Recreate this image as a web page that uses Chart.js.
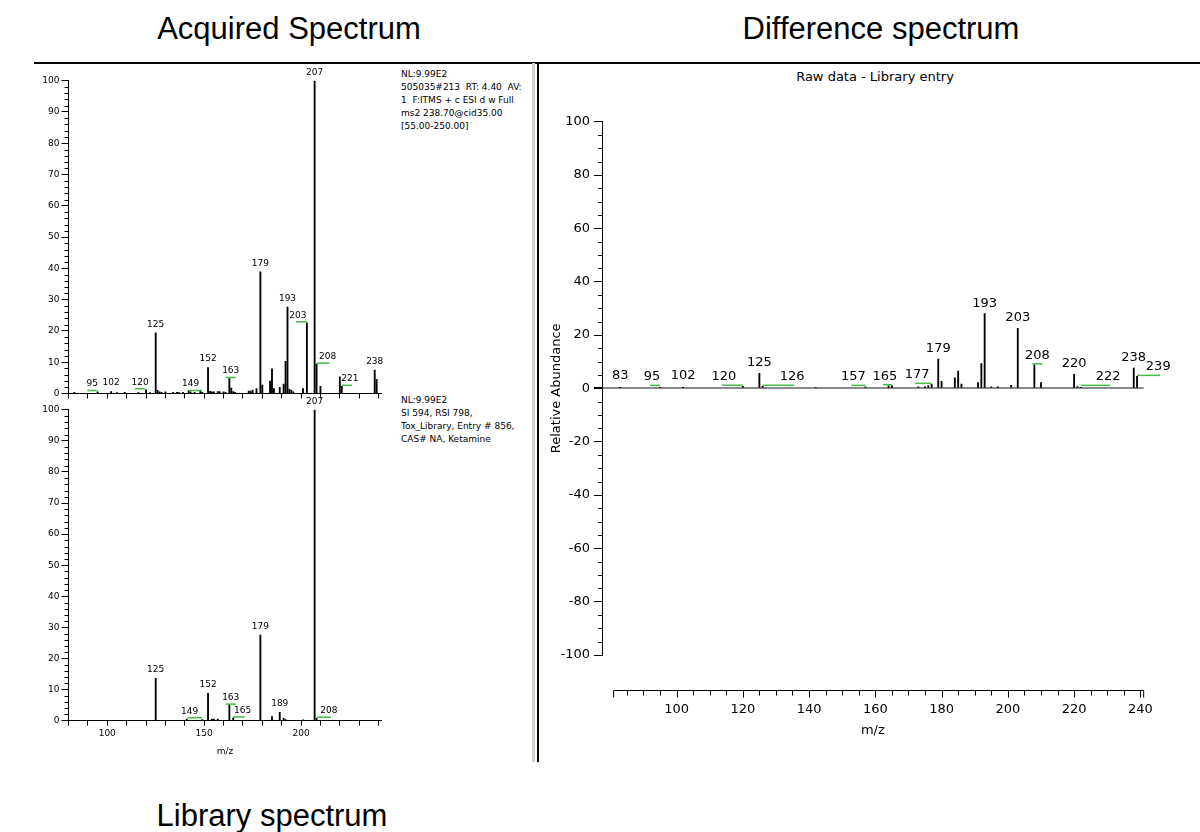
<!DOCTYPE html>
<html>
<head>
<meta charset="utf-8">
<title>Acquired / Library / Difference spectrum</title>
<script src="https://cdn.jsdelivr.net/npm/chart.js@4.4.1/dist/chart.umd.min.js"></script>
<style>
  html, body { margin: 0; padding: 0; background: #fff; }
  body { position: relative; width: 1200px; height: 832px; overflow: hidden; }
  .ttl { position: absolute; transform: translateX(-50%); font: 31px/31px 'Liberation Sans', Arial, sans-serif; color: #000; white-space: nowrap; }
  .sub { position: absolute; transform: translate(-50%, -50%); font: 13px 'DejaVu Sans', sans-serif; color: #000; white-space: nowrap; }
  .info { position: absolute; left: 401px; font: 9px 'DejaVu Sans', sans-serif; line-height: 13px; color: #000; white-space: pre; }
  .box { position: absolute; }
  .rule { position: absolute; background: #000; }
</style>
</head>
<body>

<div class="ttl" style="left:289px;top:13px">Acquired Spectrum</div>
<div class="ttl" style="left:881px;top:13px">Difference spectrum</div>
<div class="ttl" style="left:272px;top:800px">Library spectrum</div>

<div class="rule" style="left:34px;top:62px;width:1166px;height:2px"></div>
<div class="rule" style="left:532px;top:63px;width:3px;height:699px;background:#d4d0c8"></div>
<div class="rule" style="left:537px;top:63px;width:1.5px;height:699px"></div>

<div class="info" style="top:68px">NL:9.99E2
505035#213  RT: 4.40  AV:
1  F:ITMS + c ESI d w Full
ms2 238.70@cid35.00
[55.00-250.00]</div>
<div class="info" style="top:394px">NL:9.99E2
SI 594, RSI 798,
Tox_Library, Entry # 856,
CAS# NA, Ketamine</div>

<div class="sub" style="left:875px;top:76px">Raw data - Library entry</div>

<div class="box" style="left:0;top:60px;width:400px;height:345px"><canvas id="acq"></canvas></div>
<div class="box" style="left:0;top:390px;width:400px;height:375px"><canvas id="lib"></canvas></div>
<div class="box" style="left:540px;top:62px;width:660px;height:700px"><canvas id="diff"></canvas></div>

<script>
// ── DATA ──────────────────────────────────────────────────────
// acquired (raw) MS2 spectrum, relative abundance
const acqMz = [83, 95, 102, 105, 109, 116, 120, 122, 125, 126, 127, 128, 130, 134, 136,
  137, 139, 142, 143, 145, 148, 149, 152, 153, 154, 155, 157, 158, 160, 161,
  163, 164, 165, 166, 173, 174, 175, 177, 179, 180, 184, 185, 186, 189, 191,
  192, 193, 194, 195, 196, 201, 203, 207, 208, 210, 220, 221, 238, 239];
const acqAb = [0.4, 0.5, 0.6, 0.3, 0.4, 0.3, 1.2, 0.3, 19.4, 1.0, 0.5, 0.4, 0.5, 0.4, 0.4,
  0.3, 0.4, 0.9, 0.5, 0.4, 0.7, 0.4, 8.3, 0.7, 0.5, 0.5, 0.6, 0.6, 0.5, 0.4,
  4.8, 1.7, 0.6, 0.4, 0.8, 0.8, 1.1, 1.6, 38.9, 2.7, 4.0, 7.9, 1.6, 2.0, 3.0,
  10.3, 27.6, 1.4, 1.0, 0.5, 1.6, 22.6, 100, 9.4, 2.3, 5.3, 2.3, 7.5, 4.5];
// library entry (Ketamine)
const libMz = [125, 141, 149, 152, 154, 155, 157, 163, 165, 179, 185, 189, 191, 192, 201, 207, 208];
const libAb = [13.6, 0.5, 0.4, 8.8, 0.5, 0.5, 0.5, 5.0, 0.9, 27.5, 1.3, 2.7, 0.8, 0.4, 0.3, 100, 0.8];
// raw data - library entry
const diffMz = [83, 95, 102, 120, 125, 126, 142, 157, 164, 165, 173, 175, 176, 177, 179,
  180, 184, 185, 186, 191, 192, 193, 195, 197, 201, 203, 208, 210, 220, 221, 222, 238, 239];
const diffAb = [0.3, 0.3, 0.3, 0.8, 5.6, 0.8, 0.4, 0.6, 0.9, 1.0, 0.6, 0.6, 1.0, 1.5, 11.0,
  2.6, 3.9, 6.5, 1.6, 2.2, 9.3, 28.0, 0.6, 0.6, 1.1, 22.5, 8.8, 2.2, 5.3, 0.7, 0.3, 7.6, 4.5];

// peak labels: [peak m/z, m/z where the label is moved to (green flag) or null]
const acqLabels = [[95, 92.3], [102, null], [120, 117], [125, null], [149, 143], [152, null],
  [163, 163.7], [179, null], [193, null], [203, 198.3], [207, null], [208, 213.7], [221, 225.2], [238, null]];
const libLabels = [[125, null], [149, 142.5], [152, null], [163, 163.7], [165, 169.8], [179, null],
  [189, null], [207, null], [208, 214.3]];
const diffLabels = [[83, null], [95, 92.6], [102, null], [120, 114.3], [125, null], [126, 134.9],
  [157, 153.4], [165, 162.9], [177, 172.6], [179, null], [193, null], [203, null], [208, 208.9],
  [220, null], [222, 230.3], [238, null], [239, 245.4]];

Chart.defaults.font.family = "'DejaVu Sans', sans-serif";
Chart.defaults.color = '#000';
Chart.defaults.animation = false;
Chart.defaults.plugins.legend.display = false;
Chart.defaults.plugins.tooltip.enabled = false;

const FLAG_GREEN = '#45b845';

// ── PLUGINS ───────────────────────────────────────────────────
// peak m/z labels, with the green flag when the label is shifted aside
const peakLabels = {
  id: 'peakLabels',
  afterDatasetsDraw(chart, args, o) {
    const { ctx } = chart;
    const xs = chart.scales.x, ys = chart.scales.y;
    const pts = chart.data.datasets[0].data;
    const base = ys.getPixelForValue(0);
    ctx.save();
    ctx.font = `${o.size}px 'DejaVu Sans', sans-serif`;
    ctx.fillStyle = '#000';
    ctx.textAlign = 'center';
    ctx.textBaseline = 'bottom';
    o.items.forEach(([mz, lx]) => {
      const p = pts.find(d => d.x === mz);
      const px = xs.getPixelForValue(mz);
      const py = Math.min(ys.getPixelForValue(p ? p.y : 0), base - 2);
      let tx = px;
      if (lx != null) {
        tx = xs.getPixelForValue(lx);
        let a = px, b = tx + (tx > px ? 2 : -2);
        if (Math.abs(a - b) < 8) { a = tx - 5; b = tx + 5; }
        ctx.strokeStyle = FLAG_GREEN;
        ctx.lineWidth = 1.5;
        ctx.beginPath();
        ctx.moveTo(a, py - 1);
        ctx.lineTo(b, py - 1);
        ctx.stroke();
      }
      ctx.fillText(String(mz), tx, py - (lx != null ? 3 : 4));
    });
    ctx.restore();
  }
};

// short minor ticks on the abundance axis + detached m/z axis of the difference view
const axisExtras = {
  id: 'axisExtras',
  afterDraw(chart, args, o) {
    const { ctx, chartArea } = chart;
    const xs = chart.scales.x, ys = chart.scales.y;
    ctx.save();
    ctx.strokeStyle = '#000';
    ctx.lineWidth = 1;
    ctx.beginPath();
    for (let v = ys.min; v <= ys.max; v += o.yStep) {
      if (v % o.yMajor === 0) continue;
      const py = Math.round(ys.getPixelForValue(v)) + 0.5;
      ctx.moveTo(chartArea.left - o.yLen, py);
      ctx.lineTo(chartArea.left, py);
    }
    if (o.xAxis) {
      const a = o.xAxis;
      const py = Math.round(chartArea.bottom + a.gap) + 0.5;
      const x0 = xs.getPixelForValue(a.from), x1 = xs.getPixelForValue(a.to);
      ctx.moveTo(x0, py);
      ctx.lineTo(x1, py);
      ctx.moveTo(x0, py);
      ctx.lineTo(x0, py + a.majorLen);
      ctx.moveTo(x1, py);
      ctx.lineTo(x1, py + a.majorLen);
      for (let v = Math.ceil(a.from / a.step) * a.step; v < a.to; v += a.step) {
        const px = Math.round(xs.getPixelForValue(v)) + 0.5;
        ctx.moveTo(px, py);
        ctx.lineTo(px, py + (v % a.major === 0 ? a.majorLen : a.len));
      }
    }
    ctx.stroke();
    ctx.restore();
  }
};

function sticks(mz, ab) {
  return {
    data: mz.map((m, i) => ({ x: m, y: ab[i] })),
    backgroundColor: '#000', borderWidth: 0, barThickness: 1.2,
  };
}

// ── LEFT STACK (acquired / library) ──────────────────────────
function leftChart(id, mz, ab, labels, o) {
  return new Chart(document.getElementById(id), {
    type: 'bar',
    data: { datasets: [sticks(mz, ab)] },
    options: {
      responsive: true, maintainAspectRatio: false,
      layout: { padding: o.padding },
      plugins: {
        peakLabels: { items: labels, size: 9 },
        axisExtras: { yStep: 2, yMajor: 10, yLen: 4 },
      },
      scales: {
        x: {
          type: 'linear', min: 80, max: 241.5, offset: false,
          afterFit: s => { s.height = o.xHeight; },
          ticks: {
            stepSize: 10, autoSkip: false, includeBounds: false, maxRotation: 0, padding: 3,
            font: { size: 9 }, callback: v => (o.xLabels && v % 50 === 0 ? v : ''),
          },
          grid: { drawOnChartArea: false, offset: false, tickLength: 5, color: '#000' },
          border: { color: '#000' },
          title: { display: o.xLabels, text: 'm/z', font: { size: 9 }, padding: { top: 0, bottom: 3.6 } },
        },
        y: {
          min: 0, max: 100,
          afterFit: s => { s.width = 40; },
          ticks: { stepSize: 10, font: { size: 9 }, padding: 2 },
          grid: { drawOnChartArea: false, tickLength: 7, color: '#000' },
          border: { color: '#000' },
        },
      },
    },
    plugins: [peakLabels, axisExtras],
  });
}

leftChart('acq', acqMz, acqAb, acqLabels,
  { padding: { left: 28.5, top: 20.7, right: 18.5, bottom: 3.5 }, xHeight: 8, xLabels: false });
leftChart('lib', libMz, libAb, libLabels,
  { padding: { left: 28.5, top: 19.7, right: 18.5, bottom: 4.3 }, xHeight: 40, xLabels: true });

// ── DIFFERENCE SPECTRUM ──────────────────────────────────────
new Chart(document.getElementById('diff'), {
  type: 'bar',
  data: { datasets: [sticks(diffMz, diffAb)] },
  options: {
    responsive: true, maintainAspectRatio: false,
    layout: { padding: { left: 6, top: 59.7, right: 38, bottom: 7 } },
    plugins: {
      peakLabels: { items: diffLabels, size: 13 },
      axisExtras: {
        yStep: 5, yMajor: 20, yLen: 4,
        xAxis: { gap: 35, from: 81, to: 241, step: 5, major: 20, len: 5, majorLen: 7 },
      },
    },
    scales: {
      x: {
        type: 'linear', min: 77.5, max: 241, offset: false,
        afterFit: s => { s.height = 100; },
        ticks: {
          stepSize: 20, autoSkip: false, includeBounds: false, maxRotation: 0, padding: 47,
          font: { size: 13 }, callback: v => (v >= 100 ? v : ''),
        },
        grid: { drawOnChartArea: false, drawTicks: false, offset: false },
        border: { display: false },
        title: { display: true, text: 'm/z', font: { size: 13 }, padding: { top: 0, bottom: 17 } },
      },
      y: {
        min: -100, max: 100,
        afterFit: s => { s.width = 56; },
        ticks: { stepSize: 20, font: { size: 13 }, padding: 4 },
        grid: {
          tickLength: 8, tickColor: '#000',
          color: c => (c.tick && c.tick.value === 0 ? '#8a8a8a' : 'rgba(0,0,0,0)'),
          lineWidth: c => (c.tick && c.tick.value === 0 ? 2 : 1),
        },
        border: { color: '#000' },
        title: { display: true, text: 'Relative Abundance', font: { size: 13 }, padding: { top: 3, bottom: 0 } },
      },
    },
  },
  plugins: [peakLabels, axisExtras],
});
</script>
</body>
</html>
